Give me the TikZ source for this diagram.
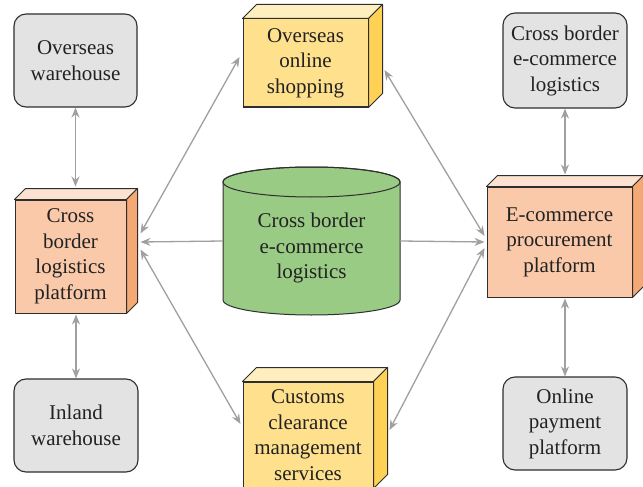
\documentclass[tikz,border=0pt]{standalone}
\usepackage{fontspec}
\setmainfont{Liberation Serif}
\usetikzlibrary{arrows.meta}

\definecolor{greybox}{HTML}{E3E3E3}
\definecolor{yfront}{HTML}{FFE08C}
\definecolor{ytop}{HTML}{FFEFBF}
\definecolor{yside}{HTML}{FFD155}
\definecolor{ofront}{HTML}{F9C9AA}
\definecolor{otop}{HTML}{FCE2D0}
\definecolor{oside}{HTML}{F4A874}
\definecolor{cylgreen}{HTML}{99CB85}
\definecolor{edge}{HTML}{2E2E2E}
\definecolor{linkgrey}{HTML}{A0A0A0}
\definecolor{ink}{HTML}{222222}

% top and right faces of a box whose front face is node #1
\newcommand{\boxfaces}[4]{%
  \filldraw[draw=edge, line width=1pt, line join=round, fill=#3]
    (#1.north west) -- ([xshift=#2pt,yshift=#2pt]#1.north west)
    -- ([xshift=#2pt,yshift=#2pt]#1.north east) -- (#1.north east) -- cycle;
  \filldraw[draw=edge, line width=1pt, line join=round, fill=#4]
    (#1.north east) -- ([xshift=#2pt,yshift=#2pt]#1.north east)
    -- ([xshift=#2pt,yshift=#2pt]#1.south east) -- (#1.south east) -- cycle;
}

\tikzset{
  lbl/.style={font=\fontsize{21}{25.5}\selectfont, align=center, text=ink},
  roundbox/.style={lbl, draw=edge, line width=1.1pt, fill=greybox,
    rounded corners=12pt, inner sep=0pt},
  frontface/.style={lbl, draw=edge, line width=1pt, fill=#1, inner sep=0pt},
  >={Stealth[length=10pt,width=8pt]},
  link/.style={draw=linkgrey, line width=1.3pt, <->},
  onelink/.style={draw=linkgrey, line width=1.3pt, ->},
}

\begin{document}
\begin{tikzpicture}[x=1pt,y=-1pt]
\useasboundingbox (0,0) rectangle (643,487);
\clip (0,0) rectangle (643,487);
\fill[white] (0,0) rectangle (643,487);

% grey rounded boxes
\node[roundbox, minimum width=123, minimum height=93] (ow) at (75.5,60.5) {Overseas\\warehouse};
\node[roundbox, minimum width=124, minimum height=93] (iw) at (76,425.5) {Inland\\warehouse};
\node[roundbox, minimum width=124, minimum height=95] (cl) at (565,60.5) {Cross border\\e-commerce\\logistics};
\node[roundbox, minimum width=124, minimum height=93] (pay) at (565,423.5) {Online\\payment\\platform};

% 3D boxes
\node[frontface=yfront, minimum width=125, minimum height=88] (shop) at (305.5,63) {Overseas\\online\\shopping};
\boxfaces{shop}{14}{ytop}{yside}
\node[frontface=yfront, minimum width=130, minimum height=106] (cu) at (308,435) {Customs\\clearance\\management\\services};
\boxfaces{cu}{14}{ytop}{yside}
\node[frontface=ofront, minimum width=111, minimum height=113] (lp) at (70.5,256.5) {Cross\\border\\logistics\\platform};
\boxfaces{lp}{11}{otop}{oside}
\node[frontface=ofront, minimum width=145, minimum height=110] (ep) at (559.5,242) {E-commerce\\procurement\\platform};
\boxfaces{ep}{11}{otop}{oside}

% cylinder
\filldraw[draw=edge, line width=1pt, fill=cylgreen]
  (223,182) -- (223,300) arc[start angle=180, end angle=360, x radius=88.5pt, y radius=15pt]
  -- (400,182) arc[start angle=0, end angle=180, x radius=88.5pt, y radius=15pt] -- cycle;
\draw[edge, line width=1pt] (311.5,182) ellipse [x radius=88.5pt, y radius=15pt];
\node[minimum width=177, minimum height=148, inner sep=0pt] (cyl) at (311.5,241) {};
\node[lbl] (cyltext) at (311.5,248) {Cross border\\e-commerce\\logistics};

% connectors
\draw[onelink] (cyl.west) -- ([xshift=14pt,yshift=14.5pt]lp.east);
\draw[onelink] (cyl.east) -- ([xshift=-2pt]ep.west);
\draw[link] ([xshift=14pt,yshift=23pt]lp.east) -- ([xshift=-3pt,yshift=6pt]shop.west);
\draw[link] ([xshift=14pt,yshift=7pt]lp.east) -- ([xshift=-2pt,yshift=11pt]cu.west);
\draw[link] ([xshift=16pt,yshift=-7pt]shop.east) -- ([xshift=-2pt,yshift=6pt]ep.west);
\draw[link] ([xshift=16pt,yshift=5pt]cu.east) -- ([xshift=-2pt,yshift=-6pt]ep.west);
\draw[link] (ow.south) -- ([yshift=13pt]lp.north -| ow.south);
\draw[link] ([yshift=-1pt]lp.south -| iw.north) -- (iw.north);
\draw[link] (cl.south) -- ([yshift=12pt]ep.north -| cl.south);
\draw[link] ([yshift=-1pt]ep.south -| pay.north) -- (pay.north);
\end{tikzpicture}
\end{document}
